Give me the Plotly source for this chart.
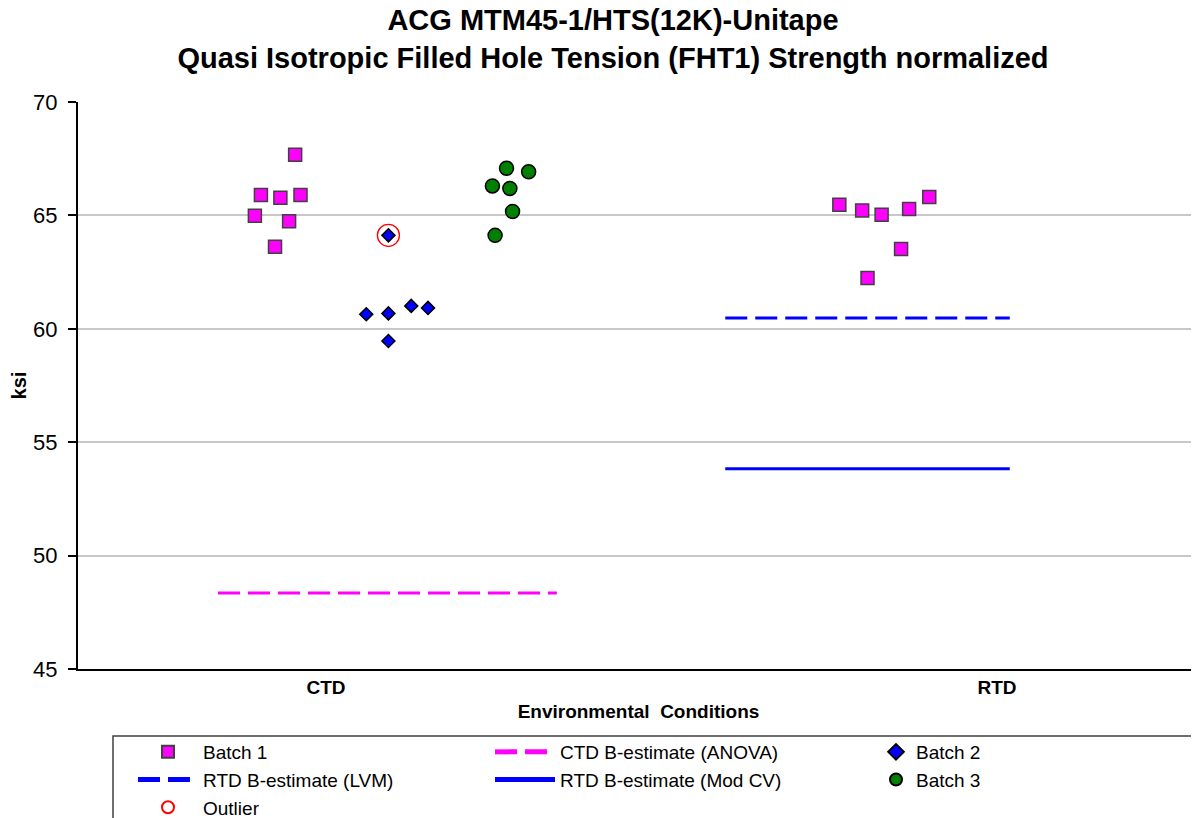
import plotly.graph_objects as go

# ---- data ----
categories = ["CTD", "RTD"]
cat_pos = [1, 2]

b1_x = [0.954, 0.903, 0.932, 0.962, 0.894, 0.945, 0.924,
        1.765, 1.799, 1.828, 1.869, 1.899, 1.857, 1.807]
b1_y = [67.67, 65.90, 65.78, 65.90, 64.99, 64.74, 63.62,
        65.47, 65.22, 65.03, 65.28, 65.81, 63.52, 62.24]

b2_x = [1.093, 1.060, 1.093, 1.127, 1.152, 1.093]
b2_y = [64.12, 60.64, 60.68, 61.01, 60.92, 59.46]

b3_x = [1.269, 1.302, 1.248, 1.274, 1.278, 1.252]
b3_y = [67.08, 66.92, 66.30, 66.19, 65.17, 64.12]

outlier_x = [1.093]
outlier_y = [64.12]

ctd_anova_x = [0.839, 1.344]
ctd_anova_y = [48.35, 48.35]
rtd_lvm_x = [1.595, 2.019]
rtd_lvm_y = [60.48, 60.48]
rtd_modcv_x = [1.595, 2.019]
rtd_modcv_y = [53.83, 53.83]

y_ticks = [45, 50, 55, 60, 65, 70]

FONT = "Liberation Sans, Arial, sans-serif"

# page has an 8px body margin; work in page pixels and convert
OFF = 8
W, H = 1199 - OFF, 818 - OFF
L = 78 - OFF
T = 102 - OFF
B = H - (669 - OFF)
R = 0
pw = W - L - R
ph = H - T - B


def px2paper_x(px):  # px: page pixels
    return (px - OFF - L) / pw


def py2paper_y(py):  # py: page pixels
    return (H - B - (py - OFF)) / ph


fig = go.Figure()

fig.add_trace(go.Scatter(
    x=b1_x, y=b1_y, mode="markers", name="Batch 1",
    marker=dict(symbol="square", size=13, color="#FF00FF",
                line=dict(color="#404040", width=1.5)),
    legend="legend", legendgroup="b1"))
fig.add_trace(go.Scatter(
    x=ctd_anova_x, y=ctd_anova_y, mode="lines", name="CTD B-estimate (ANOVA)",
    line=dict(color="#FF00FF", width=3, dash="22px,8px"),
    legend="legend2", legendgroup="ctd"))
fig.add_trace(go.Scatter(
    x=b2_x, y=b2_y, mode="markers", name="Batch 2",
    marker=dict(symbol="diamond", size=10, color="#0000FF",
                line=dict(color="#000000", width=1.5)),
    legend="legend3", legendgroup="b2"))
fig.add_trace(go.Scatter(
    x=rtd_lvm_x, y=rtd_lvm_y, mode="lines", name="RTD B-estimate (LVM)",
    line=dict(color="#0000FF", width=3, dash="22px,8px"),
    legend="legend", legendgroup="lvm"))
fig.add_trace(go.Scatter(
    x=rtd_modcv_x, y=rtd_modcv_y, mode="lines", name="RTD B-estimate (Mod CV)",
    line=dict(color="#0000FF", width=3),
    legend="legend2", legendgroup="modcv"))
fig.add_trace(go.Scatter(
    x=b3_x, y=b3_y, mode="markers", name="Batch 3",
    marker=dict(symbol="circle", size=14, color="#008000",
                line=dict(color="#000000", width=1.5)),
    legend="legend3", legendgroup="b3"))
fig.add_trace(go.Scatter(
    x=outlier_x, y=outlier_y, mode="markers", name="Outlier",
    marker=dict(symbol="circle-open", size=22, color="#FF0000",
                line=dict(color="#FF0000", width=1.3)),
    legend="legend", legendgroup="out"))

leg_common = dict(
    orientation="v", xanchor="left", yanchor="top",
    bgcolor="rgba(0,0,0,0)", borderwidth=0,
    font=dict(family=FONT, size=19, color="#000000"),
    traceorder="grouped", tracegroupgap=0, itemsizing="constant",
    xref="paper", yref="paper")

leg_top = py2paper_y(733)

fig.update_layout(
    width=W, height=H,
    margin=dict(l=L, r=R, t=T, b=B, autoexpand=False),
    paper_bgcolor="white", plot_bgcolor="white",
    font=dict(family=FONT, color="#000000"),
    title=dict(
        text="ACG MTM45-1/HTS(12K)-Unitape<br>Quasi Isotropic Filled Hole Tension (FHT1) Strength normalized",
        font=dict(family=FONT, size=29, color="#000000", weight="bold"),
        x=(613 - OFF) / W, xanchor="center", xref="container",
        y=1 - 22 / H, yanchor="top", yref="container"),
    xaxis=dict(
        range=[0.6304, 2.301], tickmode="array", tickvals=cat_pos, ticktext=categories,
        showgrid=False, zeroline=False, showline=True, linecolor="#000000", linewidth=2,
        ticks="", tickfont=dict(family=FONT, size=19, color="#000000", weight="bold"),
        title=dict(text="Environmental  Conditions",
                   font=dict(family=FONT, size=19, color="#000000", weight="bold"),
                   standoff=8)),
    yaxis=dict(
        range=[45, 70], tickmode="array", tickvals=y_ticks,
        showgrid=True, gridcolor="#C8C8C8", gridwidth=1.5, zeroline=False,
        showline=True, linecolor="#000000", linewidth=2,
        ticks="outside", ticklen=8, tickcolor="#000000", tickwidth=1.5,
        ticklabelstandoff=6,
        tickfont=dict(family=FONT, size=22, color="#000000"),
        title=dict(text="ksi", font=dict(family=FONT, size=20, color="#000000", weight="bold"),
                   standoff=7)),
    legend=dict(leg_common, x=px2paper_x(133), y=leg_top, itemwidth=60),
    legend2=dict(leg_common, x=px2paper_x(490), y=leg_top, itemwidth=60),
    legend3=dict(leg_common, x=px2paper_x(876), y=leg_top),
    shapes=[dict(type="rect", xref="paper", yref="paper",
                 x0=px2paper_x(113), x1=px2paper_x(1215),
                 y0=py2paper_y(736), y1=py2paper_y(840),
                 line=dict(color="#404040", width=1.5), fillcolor="rgba(0,0,0,0)",
                 layer="below")],
    showlegend=True,
)

fig.write_html("out.html")
